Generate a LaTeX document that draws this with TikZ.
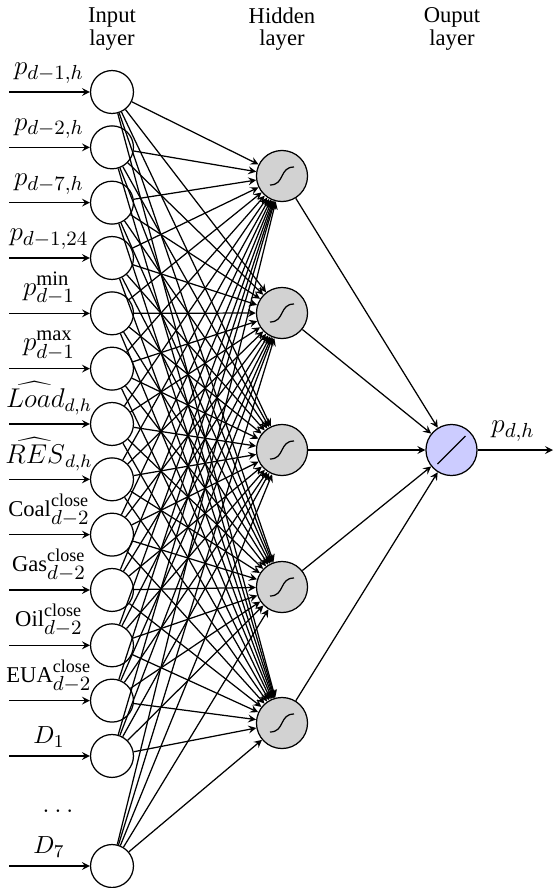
\documentclass[tikz,border=0pt]{standalone}
\usepackage{fontspec}
\setmainfont{Liberation Serif}
\usetikzlibrary{arrows}
\newcommand{\mytxt}[1]{{\fontsize{10}{12}\selectfont #1}}
\newcommand{\mysup}{\mbox{\fontsize{8}{9}\selectfont close}}
\begin{document}
\begin{tikzpicture}[x=0.4425pt,y=-0.4425pt,line width=0.55pt,
  inneuron/.style={circle,draw,fill=white,minimum size=19pt,inner sep=0pt},
  hidneuron/.style={circle,draw,fill=gray!35,minimum size=22.6pt,inner sep=0pt},
  outneuron/.style={circle,draw,fill=blue!20,minimum size=22.6pt,inner sep=0pt},
  conn/.style={-stealth},
  lbl/.style={above,font=\fontsize{13}{15}\selectfont,inner sep=0pt,yshift=3.5pt},
  header/.style={align=center,font=\fontsize{10}{12}\selectfont,inner sep=0pt}]
\useasboundingbox (0,0) rectangle (555,888);
% headers
\node[header] (hin) at (112,29) {Input\\[-2pt]layer};
\node[header] (hhid) at (282,29) {Hidden\\[-2pt]layer};
\node[header] (hout) at (452,29) {Ouput\\[-2pt]layer};
% input neurons
\foreach \i/\lab in {1/{$p_{d-1,h}$},2/{$p_{d-2,h}$},3/{$p_{d-7,h}$},4/{$p_{d-1,24}$},
  5/{$p^{\min}_{d-1}$},6/{$p^{\max}_{d-1}$},
  7/{\fontsize{12}{14}\selectfont$\widehat{Load}_{d,h}$},8/{\fontsize{12}{14}\selectfont$\widehat{RES}_{d,h}$},
  9/{\mytxt{Coal}$^{\mysup}_{d-2}$},10/{\mytxt{Gas}$^{\mysup}_{d-2}$},11/{\mytxt{Oil}$^{\mysup}_{d-2}$},
  12/{\mytxt{EUA}$^{\mysup}_{d-2}$},13/{\fontsize{11}{13}\selectfont$D_1$}} {
  \pgfmathsetmacro{\yy}{92+55.33*(\i-1)}
  \node[inneuron] (i\i) at (112,\yy) {};
  \coordinate (s\i) at (9,\yy);
  \draw[conn] (s\i) -- (i\i);
  \node[lbl] (l\i) at (49,\yy) {\lab};
}
\node[inneuron] (i14) at (112,866) {};
\coordinate (s14) at (9,866);
\draw[conn] (s14) -- (i14);
\node[lbl] (l14) at (49,866) {\fontsize{11}{13}\selectfont$D_7$};
\node[font=\fontsize{12}{14}\selectfont] (dots) at (58,811) {$\dots$};
% hidden neurons
\foreach \j/\yy in {1/176,2/313,3/450,4/587,5/723} {
  \node[hidneuron] (h\j) at (282,\yy) {};
  \draw ([shift={(-12,9)}]h\j.center) .. controls ([shift={(3,9)}]h\j.center) and ([shift={(-3,-9)}]h\j.center) .. ([shift={(12,-9)}]h\j.center);
}
% output neuron
\node[outneuron] (o) at (451.5,450) {};
\draw ([shift={(-14,14)}]o.center) -- ([shift={(14,-14)}]o.center);
\coordinate (oend) at (553,450);
\draw[conn] (o) -- (oend);
\node[lbl] (lo) at (513,450) {$p_{d,h}$};
% connections
\foreach \i in {1,...,14} {
  \foreach \j in {1,...,5} {
    \draw[conn] (i\i) -- (h\j);
  }
}
\foreach \j in {1,...,5} {
  \draw[conn] (h\j) -- (o);
}
\end{tikzpicture}
\end{document}
